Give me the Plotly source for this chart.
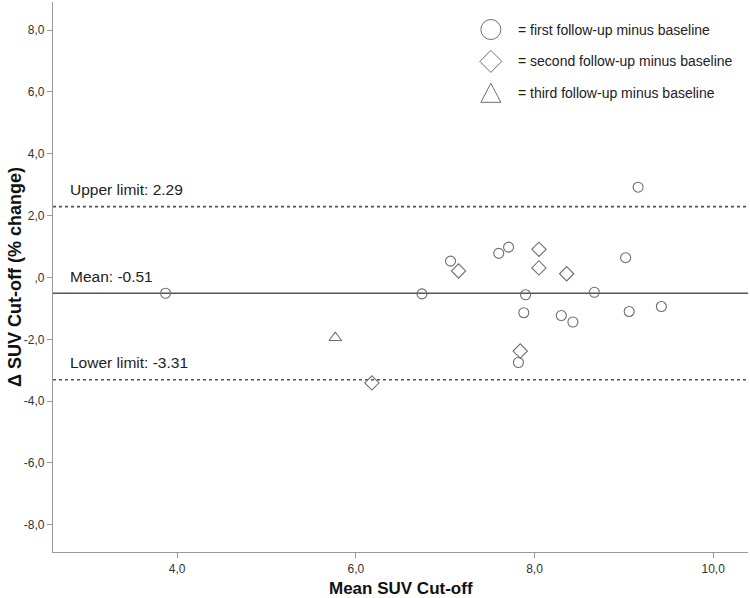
import plotly.graph_objects as go

# Data (Bland-Altman plot)
first_mean = [3.87, 6.74, 7.06, 7.60, 7.71, 7.90, 7.88, 7.82, 8.30, 8.43, 8.67, 9.02, 9.06, 9.16, 9.42]
first_diff = [-0.51, -0.53, 0.53, 0.78, 0.98, -0.56, -1.14, -2.75, -1.23, -1.44, -0.48, 0.64, -1.10, 2.92, -0.94]
second_mean = [6.18, 7.15, 7.84, 8.05, 8.05, 8.36]
second_diff = [-3.41, 0.21, -2.38, 0.91, 0.31, 0.12]
third_mean = [5.77]
third_diff = [-1.95]

mean_diff = -0.51
upper_limit = 2.29
lower_limit = -3.31

x_ticks = [4, 6, 8, 10]
x_ticklabels = ["4,0", "6,0", "8,0", "10,0"]
y_ticks = [8, 6, 4, 2, 0, -2, -4, -6, -8]
y_ticklabels = ["8,0", "6,0", "4,0", "2,0", ",0", "-2,0", "-4,0", "-6,0", "-8,0"]

legend_labels = ["= first follow-up minus baseline",
                 "= second follow-up minus baseline",
                 "= third follow-up minus baseline"]

GRAY = "#6e6e6e"
LINE = "#555555"
FONT = "Liberation Sans, Arial, sans-serif"

fig = go.Figure()
fig.add_trace(go.Scatter(x=first_mean, y=first_diff, mode="markers",
                         marker=dict(symbol="circle-open", size=10, color=GRAY, line=dict(width=1.1)),
                         showlegend=False))
fig.add_trace(go.Scatter(x=second_mean, y=second_diff, mode="markers",
                         marker=dict(symbol="diamond-open", size=11, color=GRAY, line=dict(width=1.1)),
                         showlegend=False))
fig.add_trace(go.Scatter(x=third_mean, y=third_diff, mode="markers",
                         marker=dict(symbol="triangle-up-open", size=11, color=GRAY, line=dict(width=1.1)),
                         showlegend=False))

shapes = []
for val, dash in [(mean_diff, "solid"), (upper_limit, "dot"), (lower_limit, "dot")]:
    shapes.append(dict(type="line", xref="paper", x0=0, x1=1, yref="y", y0=val, y1=val,
                       line=dict(color=LINE, width=1.5 if dash == "solid" else 1.6, dash=dash),
                       layer="below"))

# Custom legend symbols (pixel-sized shapes anchored in paper coords)
lx = 0.630
ly = [0.950, 0.892, 0.834]
shapes.append(dict(type="circle", xref="paper", yref="paper", xsizemode="pixel", ysizemode="pixel",
                   xanchor=lx, yanchor=ly[0], x0=-10, x1=10, y0=-10, y1=10,
                   line=dict(color=GRAY, width=1)))
shapes.append(dict(type="path", xref="paper", yref="paper", xsizemode="pixel", ysizemode="pixel",
                   xanchor=lx, yanchor=ly[1], path="M -11 0 L 0 11 L 11 0 L 0 -11 Z",
                   line=dict(color=GRAY, width=1)))
shapes.append(dict(type="path", xref="paper", yref="paper", xsizemode="pixel", ysizemode="pixel",
                   xanchor=lx, yanchor=ly[2], path="M -10 -9 L 10 -9 L 0 10 Z",
                   line=dict(color=GRAY, width=1)))

annotations = []
for lab, yy in zip(legend_labels, ly):
    annotations.append(dict(x=0.666, y=yy, xref="paper", yref="paper", text=lab, showarrow=False,
                            xanchor="left", yanchor="middle", font=dict(family=FONT, size=14, color="#222")))
for lab, val in [("Upper limit: 2.29", upper_limit), ("Mean: -0.51", mean_diff), ("Lower limit: -3.31", lower_limit)]:
    annotations.append(dict(x=0.021, y=val, xref="paper", yref="y", text=lab, showarrow=False,
                            xanchor="left", yanchor="middle", yshift=17,
                            font=dict(family=FONT, size=15.5, color="#222")))
# Axis titles
annotations.append(dict(x=0.5, y=-0.066, xref="paper", yref="paper", text="<b>Mean SUV Cut-off</b>",
                        showarrow=False, xanchor="center", yanchor="middle",
                        font=dict(family=FONT, size=17, color="#111")))
annotations.append(dict(x=-0.0547, y=0.5, xref="paper", yref="paper", text="<b>Δ SUV Cut-off (% change)</b>",
                        showarrow=False, xanchor="center", yanchor="middle", textangle=-90,
                        font=dict(family=FONT, size=18, color="#111")))

fig.update_layout(
    width=750, height=598,
    margin=dict(l=53, r=2, t=2, b=46, autoexpand=False),
    paper_bgcolor="white", plot_bgcolor="white",
    shapes=shapes, annotations=annotations,
    showlegend=False,
    font=dict(family=FONT, color="#333"),
)
fig.update_xaxes(range=[2.61, 10.39], tickvals=x_ticks, ticktext=x_ticklabels, automargin=False,
                 showgrid=False, zeroline=False, showline=True, linecolor="#999", linewidth=1.2,
                 ticks="outside", ticklen=5, tickcolor="#999", tickfont=dict(size=12, color="#333"))
fig.update_yaxes(range=[-8.88, 8.91], tickvals=y_ticks, ticktext=y_ticklabels, automargin=False,
                 showgrid=False, zeroline=False, showline=True, linecolor="#999", linewidth=1.2,
                 ticks="outside", ticklen=5, tickcolor="#999", tickfont=dict(size=12, color="#333"))

fig.write_html("out.html", config={"displayModeBar": False},
               post_script="document.body.style.margin='0';document.body.style.overflow='hidden';")
